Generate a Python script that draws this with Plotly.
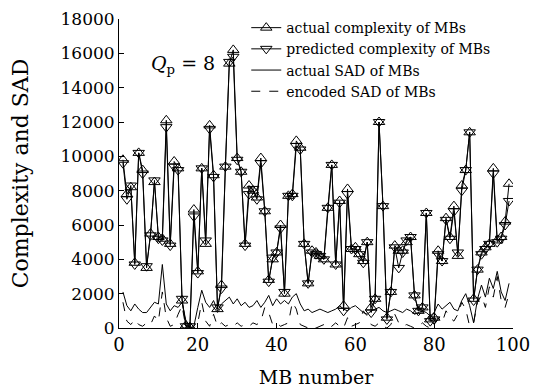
import plotly.graph_objects as go

mb = list(range(1, 100))

actual_complexity = [
    9800, 7800, 8200, 3800, 10200, 9200, 3500, 5500, 8500, 5300,
    5200, 12100, 4900, 9700, 9300, 1600, 150, 50, 6900, 3300,
    9300, 4900, 11800, 8900, 1100, 2500, 9400, 15400, 16200, 9900,
    9100, 4900, 8300, 8000, 7600, 9900, 6800, 2800, 4000, 4400,
    6000, 2000, 7700, 7800, 10900, 10500, 4900, 2600, 4500, 4400,
    4200, 4000, 7000, 9500, 3700, 7400, 1300, 8100, 4600, 4700,
    4300, 3900, 5000, 1200, 1700, 12000, 7100, 600, 2100, 4800,
    4500, 4500, 5000, 5300, 1900, 1000, 1200, 6700, 500, 600,
    4500, 3900, 6400, 5300, 7100, 4200, 8300, 9200, 11400, 1700,
    3400, 4400, 4700, 4900, 9300, 5100, 5300, 6200, 8400,
]

predicted_complexity = [
    9600, 7500, 8300, 3700, 10200, 9000, 3600, 5400, 8600, 5200,
    5100, 11700, 4800, 9400, 9200, 1700, 100, 100, 6500, 3200,
    9300, 5100, 11600, 8800, 1200, 2300, 9400, 15500, 15800, 9800,
    9100, 4800, 7800, 8100, 7500, 9600, 6800, 2700, 4100, 4400,
    5800, 2100, 7700, 7700, 10600, 10400, 4900, 2600, 4400, 4300,
    4200, 4000, 7000, 9500, 3700, 7300, 1000, 7800, 4600, 4600,
    4300, 3800, 5000, 900, 1700, 12000, 7100, 500, 2100, 4700,
    3500, 4400, 5100, 5300, 1900, 1000, 1200, 6700, 400, 500,
    4300, 3900, 6300, 5200, 6800, 4400, 8000, 9200, 11400, 1600,
    3400, 4300, 4600, 4900, 9000, 5000, 5200, 6000, 7400,
]

actual_sad = [
    2100, 1300, 1000, 1400, 1100, 900, 900, 1200, 1500, 1400,
    3700, 1400, 1000, 1300, 1200, 1500, 400, 0, 100, 1200,
    2200, 1500, 1200, 1600, 1000, 1400, 1600, 1800, 1400, 1700,
    1300, 1500, 1200, 1300, 1600, 1200, 1500, 1900, 1300, 1700,
    1400, 1600, 1400, 1800, 2000, 1400, 1000, 1100, 900, 1000,
    1100, 1000, 900, 1000, 1100, 1300, 1100, 1000, 1200, 1300,
    1100, 900, 800, 1000, 1100, 1200, 1000, 900, 1000, 1100,
    1000, 900, 1100, 1000, 800, 900, 1000, 900, 700, 900,
    1400, 1100, 1300, 1500, 1100, 1000, 1600, 2000, 1300, 300,
    1700, 2500, 1800, 2900, 2300, 3300, 2100, 1600, 2600,
]

encoded_sad = [
    1500, 400, 200, 500, 200, 100, 300, 200, 700, 400,
    2100, 600, 100, 200, 800, 1300, 0, 0, 0, 300,
    1500, 400, 100, 800, 100, 300, 100, 200, 100, 300,
    100, 200, 100, 300, 200, 400, 1200, 900, 200, 300,
    100, 200, 300, 1500, 1100, 200, 100, 0, 100, 0,
    100, 200, 0, 100, 300, 100, 0, 600, 100, 200,
    300, 1000, 700, 200, 100, 300, 100, 0, 200, 800,
    300, 100, 200, 100, 0, 100, 300, 100, 0, 200,
    600, 300, 1000, 600, 400, 800, 1500, 1100, 100, 300,
    1500, 1900, 1200, 2400, 1800, 3000, 1600, 1200, 2000,
]

x_ticks = [0, 20, 40, 60, 80, 100]
y_ticks = [0, 2000, 4000, 6000, 8000, 10000, 12000, 14000, 16000, 18000]

SERIF = "DejaVu Serif"

fig = go.Figure()
fig.add_trace(go.Scatter(
    x=mb, y=actual_complexity, mode="lines+markers",
    name="actual complexity of MBs",
    line=dict(color="black", width=1),
    marker=dict(symbol="triangle-up-open", size=10, color="black", line=dict(width=1)),
))
fig.add_trace(go.Scatter(
    x=mb, y=predicted_complexity, mode="lines+markers",
    name="predicted complexity of MBs",
    line=dict(color="black", width=1),
    marker=dict(symbol="triangle-down-open", size=10, color="black", line=dict(width=1)),
))
fig.add_trace(go.Scatter(
    x=mb, y=actual_sad, mode="lines", name="actual SAD of MBs",
    line=dict(color="black", width=1),
))
fig.add_trace(go.Scatter(
    x=mb, y=encoded_sad, mode="lines", name="encoded SAD of MBs",
    line=dict(color="black", width=1, dash="dash"),
))

fig.add_annotation(
    x=0.075, y=0.852, xref="paper", yref="paper", xanchor="left", yanchor="middle",
    text="<i>Q</i><sub>p</sub> = 8", showarrow=False,
    font=dict(family=SERIF, size=19, color="black"),
)

fig.update_layout(
    width=540, height=392,
    margin=dict(l=111, r=35, t=11, b=72, autoexpand=False),
    paper_bgcolor="white", plot_bgcolor="white",
    font=dict(family=SERIF, color="black"),
    legend=dict(
        x=0.323, y=1.0225, xanchor="left", yanchor="top",
        bgcolor="rgba(0,0,0,0)", font=dict(family=SERIF, size=14, color="black"),
        itemwidth=30, tracegroupgap=0,
    ),
    xaxis=dict(
        range=[0, 100], tickvals=x_ticks, ticktext=[str(v) for v in x_ticks],
        showgrid=False, zeroline=False, showline=True, linecolor="black", linewidth=1,
        ticks="inside", ticklen=5, tickcolor="black", automargin=False,
        ticklabeloverflow="allow",
        tickfont=dict(family=SERIF, size=18, color="black"),
        title=dict(text="MB number", font=dict(family=SERIF, size=19, color="black"), standoff=17),
    ),
    yaxis=dict(
        range=[0, 18000], tickvals=y_ticks, ticktext=[str(v) for v in y_ticks],
        showgrid=False, zeroline=False, showline=True, linecolor="black", linewidth=1,
        ticks="inside", ticklen=5, tickcolor="black", automargin=False,
        ticklabeloverflow="allow",
        tickfont=dict(family=SERIF, size=17, color="black"),
        title=dict(text="Complexity and SAD", font=dict(family=SERIF, size=22, color="black"), standoff=30),
    ),
)

fig.write_html("out.html")
